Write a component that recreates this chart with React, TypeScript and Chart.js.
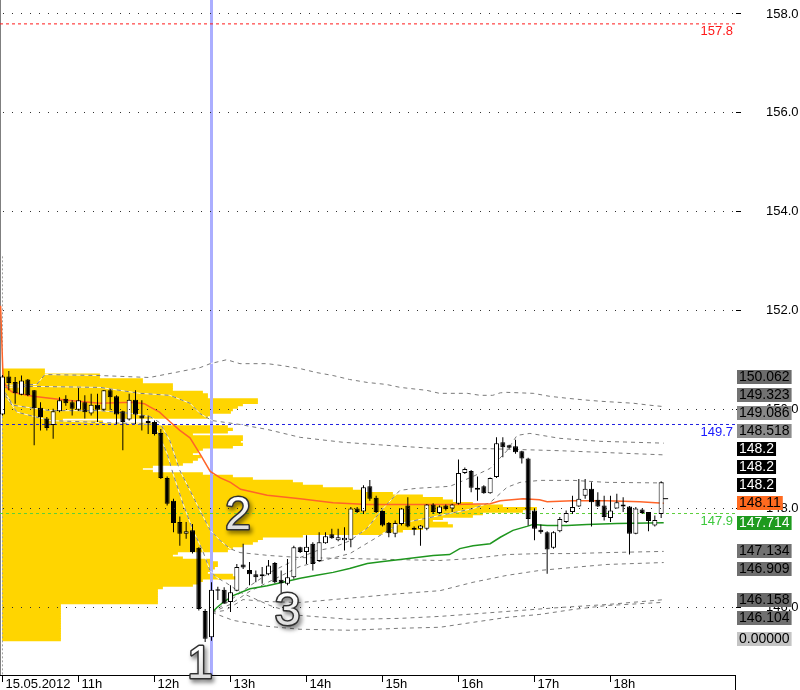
import React, { useEffect, useRef } from 'react';
import { Chart, registerables } from 'chart.js';

Chart.register(...registerables);

const FONT = '"Liberation Sans", Arial, Helvetica, sans-serif';

// ---- 5-minute candles, 15.05.2012 ----
const CANDLE_TIMES = [
  '10:00','10:05','10:10','10:15','10:20','10:25','10:30','10:35','10:40','10:45','10:50','10:55',
  '11:00','11:05','11:10','11:15','11:20','11:25','11:30','11:35','11:40','11:45','11:50','11:55',
  '12:00','12:05','12:10','12:15','12:20','12:25','12:30','12:35','12:40','12:45','12:50','12:55',
  '13:00','13:05','13:10','13:15','13:20','13:25','13:30','13:35','13:40','13:45','13:50','13:55',
  '14:00','14:05','14:10','14:15','14:20','14:25','14:30','14:35','14:40','14:45','14:50','14:55',
  '15:00','15:05','15:10','15:15','15:20','15:25','15:30','15:35','15:40','15:45','15:50','15:55',
  '16:00','16:05','16:10','16:15','16:20','16:25','16:30','16:35','16:40','16:45','16:50','16:55',
  '17:00','17:05','17:10','17:15','17:20','17:25','17:30','17:35','17:40','17:45','17:50','17:55',
  '18:00','18:05','18:10','18:15','18:20','18:25','18:30','18:35','18:40',
];
const OPEN = [
  149.90,150.67,150.56,150.30,150.61,150.39,150.04,149.82,149.69,149.97,150.22,150.15,
  150.00,150.15,149.92,150.10,150.00,150.39,150.27,149.97,149.80,150.20,149.88,149.77,
  149.75,149.53,148.62,148.16,147.73,147.49,147.56,147.21,145.93,145.40,146.37,146.36,
  146.11,146.34,146.87,146.76,146.67,146.67,146.67,146.90,146.56,146.48,146.61,147.22,
  147.12,147.29,146.94,147.30,147.48,147.36,147.36,147.37,148.00,147.94,148.45,148.22,
  147.95,147.71,147.49,147.69,148.06,147.61,147.59,147.59,148.08,147.91,148.06,148.00,
  148.10,148.72,148.76,148.38,148.45,148.31,148.64,149.34,149.28,149.26,149.16,149.01,
  147.96,147.57,147.52,147.21,147.54,147.73,147.93,148.04,148.26,148.40,148.18,148.06,
  147.81,148.00,148.08,148.04,147.49,147.98,147.93,147.66,147.89,
];
const HIGH = [
  150.70,150.78,150.66,150.69,150.62,150.40,150.15,149.85,150.02,150.25,150.29,150.19,
  150.44,150.29,150.32,150.32,150.40,150.42,150.29,149.98,150.32,150.39,150.19,149.88,
  149.78,149.61,148.65,148.20,147.84,147.73,147.69,147.22,145.97,146.51,146.42,146.41,
  146.45,146.88,147.29,146.92,146.75,146.82,146.96,146.92,146.75,146.98,147.25,147.23,
  147.46,147.32,147.52,147.52,147.59,147.59,147.62,148.03,148.03,148.47,148.58,148.26,
  147.96,147.73,147.76,148.01,148.23,147.64,147.67,148.09,148.11,148.06,148.08,148.10,
  148.99,148.83,148.78,148.65,148.47,148.63,149.44,149.44,149.29,149.39,149.17,149.03,
  148.00,147.68,147.54,147.54,147.83,147.96,148.26,148.60,148.60,148.53,148.33,148.26,
  148.26,148.30,148.23,148.05,148.03,148.00,147.93,147.86,148.55,
];
const LOW = [
  149.88,150.39,150.12,150.29,150.27,149.28,149.58,149.58,149.41,149.95,150.08,149.88,
  149.98,149.82,149.88,149.75,149.98,150.00,149.71,149.18,149.78,149.71,149.58,149.51,
  149.48,148.60,148.06,147.52,147.25,147.39,147.09,145.94,145.30,145.33,146.15,146.07,
  145.91,146.33,146.78,146.45,146.51,146.48,146.65,146.49,146.24,146.45,146.58,147.10,
  146.88,146.75,146.92,147.29,147.39,147.34,147.15,147.22,147.91,147.89,148.16,147.91,
  147.64,147.42,147.42,147.66,147.62,147.46,147.25,147.56,147.89,147.89,147.96,147.93,
  148.08,148.70,148.33,148.16,148.30,148.30,148.62,149.04,149.21,149.11,148.91,147.66,
  147.36,147.49,146.68,147.19,147.52,147.71,147.89,148.03,148.20,147.64,148.03,147.76,
  147.73,148.00,147.93,147.07,147.48,147.89,147.54,147.64,147.81,
];
const CLOSE = [
  150.67,150.54,150.33,150.59,150.29,150.03,149.85,149.63,149.97,150.19,150.13,150.02,
  150.19,149.95,150.10,150.00,150.39,150.25,149.90,149.75,150.20,149.90,149.82,149.73,
  149.51,148.62,148.10,147.71,147.49,147.54,147.12,145.97,145.37,146.36,146.34,146.08,
  146.31,146.82,146.81,146.67,146.61,146.63,146.85,146.51,146.49,146.61,147.22,147.12,
  147.23,146.88,147.32,147.44,147.40,147.42,147.41,148.00,147.93,148.43,148.20,147.93,
  147.66,147.50,147.71,148.00,147.64,147.57,147.66,148.08,147.93,148.04,147.99,148.08,
  148.72,148.80,148.42,148.42,148.31,148.62,149.32,149.24,149.23,149.14,149.01,147.79,
  147.59,147.52,147.17,147.52,147.79,147.91,148.03,148.20,148.40,148.13,148.04,147.83,
  147.96,148.13,148.04,147.49,148.00,147.91,147.75,147.77,148.53,
];
const LAST_PRICE = 148.2;

// ---- volume profile (price level -> traded volume) ----
const PROFILE_PRICE = [
  150.80,150.75,150.70,150.65,150.60,150.55,150.50,150.45,150.40,150.35,
  150.30,150.25,150.20,150.15,150.10,150.05,150.00,149.95,149.90,149.85,
  149.80,149.75,149.70,149.65,149.60,149.55,149.50,149.45,149.40,149.35,
  149.30,149.25,149.20,149.15,149.10,149.05,149.00,148.95,148.90,148.85,
  148.80,148.75,148.70,148.65,148.60,148.55,148.50,148.45,148.40,148.35,
  148.30,148.25,148.20,148.15,148.10,148.05,148.00,147.95,147.90,147.85,
  147.80,147.75,147.70,147.65,147.60,147.55,147.50,147.45,147.40,147.35,
  147.30,147.25,147.20,147.15,147.10,147.05,147.00,146.95,146.90,146.85,
  146.80,146.75,146.70,146.65,146.60,146.55,146.50,146.45,146.40,146.35,
  146.30,146.25,146.20,146.15,146.10,146.05,146.00,145.95,145.90,145.85,
  145.80,145.75,145.70,145.65,145.60,145.55,145.50,145.45,145.40,145.35,
];
const PROFILE_VOLUME = [
  42,42,97,97,140,140,170,170,170,200,
  205,205,255,255,240,235,230,228,210,205,
  60,100,150,225,230,225,190,240,240,238,
  240,230,200,195,190,198,195,190,180,150,
  140,150,200,230,250,290,300,320,350,360,
  390,420,440,450,470,500,534,520,480,470,
  440,430,445,450,420,400,380,300,260,255,
  250,240,230,225,175,170,180,210,215,215,
  212,210,205,230,235,200,195,190,160,155,
  155,155,155,155,155,58,58,58,58,58,
  58,58,58,58,58,58,58,58,58,58,
];

// ---- indicator lines: [minutes after 10:00, price] ----
const ORANGE_VWAP: [number, number][] = [
  [-1.5,152.10],[0.5,150.60],[4,150.43],[8,150.35],[24,150.27],[51,150.19],[77,150.13],[103,150.15],
  [112,150.12],[116,150.06],[124,149.95],[132,149.76],[140,149.58],[148,149.43],[156,149.10],[164,148.75],
  [172,148.62],[180,148.53],[188,148.39],[209,148.27],[235,148.20],[261,148.12],[288,148.08],[356,148.08],
  [385,148.10],[393,148.16],[411,148.20],[424,148.18],[430,148.14],[450,148.16],[477,148.16],[503,148.14],[522,148.11],
];
const ORANGE_UP2: [number, number][] = [
  [2,150.49],[27,150.51],[33.5,150.71],[77,150.69],[116,150.65],[136,150.75],[156,150.85],[164,150.93],
  [177,151.01],[187.5,150.93],[209,150.93],[221,150.89],[235,150.83],[248,150.75],[261,150.69],[274,150.61],
  [288,150.55],[303,150.51],[314,150.45],[335,150.39],[345,150.33],[367,150.33],[377,150.29],[387,150.29],
  [393,150.34],[398,150.35],[419,150.33],[432,150.27],[446,150.23],[458,150.20],[472,150.17],[485,150.15],
  [498,150.13],[511,150.09],[522,150.062],
];
const ORANGE_UP1: [number, number][] = [
  [2,150.45],[24,150.47],[77,150.45],[108.6,150.33],[132,150.29],[148,150.13],[156,149.92],[165.4,149.78],
  [187.5,149.70],[209,149.60],[235,149.44],[269,149.34],[314,149.26],[345,149.21],[385,149.21],[440,149.17],[522,149.086],
];
const ORANGE_DN1: [number, number][] = [
  [2,150.35],[8.3,150.09],[37.5,149.98],[77,149.98],[103,149.92],[116.4,149.86],[124,149.74],[132,149.38],
  [140,148.77],[148,148.37],[156,147.96],[164,147.56],[172,147.35],[179.6,147.19],[187.5,147.11],[211,147.05],
  [235,147.01],[274,146.99],[345,146.95],[371,146.99],[398,147.07],[424,147.09],[450,147.09],[477,147.11],[522,147.134],
];
const ORANGE_DN2: [number, number][] = [
  [2,150.29],[11.4,149.95],[37.5,149.78],[77,149.74],[103,149.72],[120,149.70],[130,149.11],[134.6,148.71],
  [142.5,148.10],[150.4,147.56],[158,147.15],[163.8,146.75],[169,146.61],[177,146.49],[187.5,146.31],[211.2,146.04],
  [234.9,145.84],[274.3,145.76],[313.8,145.78],[345.4,145.82],[398.3,145.92],[440.1,146.00],[477.2,146.06],[522,146.158],
];
const GREEN_VWAP: [number, number][] = [
  [165.4,145.90],[169.3,146.00],[174,146.10],[182,146.24],[195.4,146.38],[209,146.44],[221.4,146.51],[235,146.59],
  [248,146.65],[261,146.71],[274,146.79],[288,146.89],[300.4,146.93],[314,146.97],[327,147.01],[340,147.05],
  [353,147.07],[361,147.19],[371.5,147.25],[385,147.29],[393,147.42],[403,147.56],[414,147.64],[419,147.68],
  [430,147.66],[445.6,147.66],[461.4,147.68],[485,147.70],[522,147.714],
];
const GREEN_UP2: [number, number][] = [
  [165.4,145.90],[179.6,146.14],[195.4,146.44],[211.2,146.71],[234.9,147.01],[248.3,147.15],[260.9,147.21],
  [274.3,147.35],[287.8,147.60],[300.4,148.00],[313.8,148.37],[327.2,148.41],[353.3,148.45],[371.5,148.65],
  [384.9,148.81],[398.3,149.17],[406.2,149.48],[416.4,149.52],[440.1,149.42],[471.7,149.36],[522,149.323],
];
const GREEN_UP1: [number, number][] = [
  [165.4,145.90],[179.6,146.06],[195.4,146.33],[211.2,146.53],[234.9,146.83],[274.3,147.09],[313.8,147.70],
  [345.4,147.86],[371.5,148.00],[384.9,148.12],[398.3,148.43],[408.6,148.53],[424.3,148.57],[450.4,148.57],
  [477.2,148.53],[522,148.518],
];
const GREEN_DN1: [number, number][] = [
  [165.4,145.90],[175.7,145.94],[189.9,146.16],[208.8,146.12],[234.9,146.10],[260.9,146.16],[287.8,146.22],
  [313.8,146.28],[345.4,146.34],[371.5,146.51],[398.3,146.65],[424.3,146.75],[450.4,146.81],[477.2,146.87],[522,146.909],
];
const GREEN_DN2: [number, number][] = [
  [165.4,145.90],[182,145.74],[208.8,145.62],[234.9,145.56],[274.3,145.54],[313.8,145.58],[345.4,145.60],
  [371.5,145.70],[398.3,145.80],[424.3,145.86],[450.4,145.96],[477.2,146.04],[522,146.104],
];

// ---- horizontal levels ----
const LEVEL_VALUES = [157.8, 149.7, 147.9];
const LEVEL_COLORS = ['#ff1a1a', '#2020e0', '#5ccf3a'];
const LEVEL_TEXT_COLORS = ['#ff1a1a', '#1a1aff', '#3cc83c'];

const MARKER_TIME = '12:45';
const SESSION_START = '10:00';
const SESSION_LINE_TOP = 153.1;

// ---- axes ----
const X_TICKS = ['10:00','11:00','12:00','13:00','14:00','15:00','16:00','17:00','18:00'];
const X_TICK_LABELS = ['15.05.2012','11h','12h','13h','14h','15h','16h','17h','18h'];
const Y_TICKS = [146, 148, 150, 152, 154, 156, 158];
const X_RANGE = [-1.97, 578.3];
const Y_RANGE = [144.635, 158.283];

// ---- value boxes on the price axis (placement order) ----
const SIDE_VALUES = [147.714, 148.11, 148.2, 148.2, 148.2, 148.518, 149.086, 149.323, 150.062, 147.134, 146.909, 146.158, 146.104, 0];
const SIDE_TEXTS = ['147.714','148.11','148.2','148.2','148.2','148.518','149.086','149.323','150.062','147.134','146.909','146.158','146.104','0.00000'];
const SIDE_BG = ['#1e9a1e','#ff6a1f','#000000','#000000','#000000','#8c8c8c','#888888','#727272','#6c6c6c','#727272','#6e6e6e','#6a6a6a','#707070','#c4c4c4'];
const SIDE_FG = ['#ffffff','#000000','#ffffff','#ffffff','#ffffff','#000000','#000000','#000000','#000000','#000000','#000000','#000000','#000000','#000000'];

// ---- numbered annotations ----
const NOTE_TEXT = ['1', '2', '3'];
const NOTE_TIME = [156, 186, 225];
const NOTE_PRICE = [144.83, 147.84, 145.90];

const toMin = (s: string) => {
  const [h, m] = s.split(':').map(Number);
  return h * 60 + m - 600;
};

const pts = (arr: [number, number][]) => arr.map(([x, y]) => ({ x, y }));

function lineDs(data: any[], color: string, width: number, order: number, dash: number[] = []) {
  return {
    type: 'line' as const,
    data,
    borderColor: color,
    borderWidth: width,
    borderDash: dash,
    pointRadius: 0,
    tension: 0,
    fill: false,
    order,
    xAxisID: 'x',
    yAxisID: 'y',
  };
}

const noPadding = (s: any) => {
  s.paddingTop = 0;
  s.paddingBottom = 0;
  s.paddingLeft = 0;
  s.paddingRight = 0;
};

const overlayPlugin = {
  id: 'overlay',
  afterDatasetsDraw(chart: any) {
    const { ctx, chartArea, scales } = chart;
    ctx.save();
    ctx.font = `13px ${FONT}`;
    ctx.textAlign = 'right';
    ctx.textBaseline = 'middle';
    LEVEL_VALUES.forEach((v, i) => {
      const y = scales.y.getPixelForValue(v);
      ctx.fillStyle = LEVEL_TEXT_COLORS[i];
      ctx.fillText(v.toFixed(1), chartArea.right - 2, y + 7.5);
    });
    ctx.restore();
  },
  afterDraw(chart: any) {
    const { ctx, chartArea, scales } = chart;
    ctx.save();
    ctx.strokeStyle = '#000';
    ctx.lineWidth = 1;
    ctx.beginPath();
    ctx.moveTo(Math.round(chartArea.right) + 0.5, chartArea.bottom);
    ctx.lineTo(Math.round(chartArea.right) + 0.5, chart.height);
    ctx.stroke();
    ctx.restore();

    // value boxes: labels above the last price stack upwards, the others downwards
    const GAP = 18;
    const lo = chartArea.top + 8;
    const hi = chartArea.bottom - 36;
    const placed: number[] = [];
    ctx.save();
    ctx.font = `14px ${FONT}`;
    ctx.textBaseline = 'middle';
    ctx.textAlign = 'left';
    SIDE_VALUES.forEach((v, i) => {
      let c = Math.min(hi, Math.max(lo, scales.y.getPixelForValue(v)));
      const up = v >= LAST_PRICE;
      for (let k = 0; k < 40; k++) {
        const hit = placed.filter((p) => Math.abs(c - p) < GAP - 0.01);
        if (!hit.length) break;
        c = up ? Math.min(...hit) - GAP : Math.max(...hit) + GAP;
      }
      placed.push(c);
      const text = SIDE_TEXTS[i];
      const w = ctx.measureText(text).width + 4;
      const x0 = Math.round(chartArea.right) + 2;
      ctx.fillStyle = SIDE_BG[i];
      ctx.fillRect(x0, Math.round(c - 7), w, 14);
      ctx.fillStyle = SIDE_FG[i];
      ctx.fillText(text, x0 + 2, Math.round(c) + 0.5);
    });
    ctx.restore();

    ctx.save();
    ctx.font = `46px ${FONT}`;
    ctx.textAlign = 'center';
    ctx.textBaseline = 'middle';
    NOTE_TEXT.forEach((t, i) => {
      const x = scales.x.getPixelForValue(NOTE_TIME[i]);
      const y = scales.y.getPixelForValue(NOTE_PRICE[i]);
      ctx.save();
      ctx.shadowColor = 'rgba(0,0,0,0.55)';
      ctx.shadowBlur = 4;
      ctx.shadowOffsetX = 2;
      ctx.shadowOffsetY = 3;
      ctx.lineWidth = 3;
      ctx.strokeStyle = '#303030';
      ctx.lineJoin = 'round';
      ctx.strokeText(t, x, y);
      ctx.restore();
      const g = ctx.createLinearGradient(0, y - 16, 0, y + 16);
      g.addColorStop(0, '#ffffff');
      g.addColorStop(1, '#d8d8d8');
      ctx.fillStyle = g;
      ctx.fillText(t, x, y);
    });
    ctx.restore();
  },
};

export default function App() {
  const ref = useRef<HTMLCanvasElement>(null);

  useEffect(() => {
    const canvas = ref.current;
    if (!canvas) return;
    const times = CANDLE_TIMES.map(toMin);
    const wickData = times.map((x, i) => ({ x, y: [LOW[i], HIGH[i]] }));
    const bodyData = times.map((x, i) => ({ x, y: [OPEN[i], CLOSE[i]] }));
    const bodyColors = OPEN.map((o, i) => (CLOSE[i] >= o ? '#ffffff' : '#000000'));
    const lastT = times[times.length - 1];
    const markerT = toMin(MARKER_TIME);
    const sessionT = toMin(SESSION_START);

    const bands = [ORANGE_UP2, ORANGE_UP1, ORANGE_DN1, ORANGE_DN2, GREEN_UP2, GREEN_UP1, GREEN_DN1, GREEN_DN2];
    const bandDatasets: any[] = [];
    bands.forEach((b) => {
      bandDatasets.push(lineDs(pts(b), 'rgba(255,255,255,0.85)', 1, 71));
      bandDatasets.push(lineDs(pts(b), '#7a7a7a', 1, 70, [4, 4]));
    });

    const chart = new Chart(canvas, {
      type: 'bar',
      data: {
        datasets: [
          {
            type: 'bar',
            indexAxis: 'y',
            xAxisID: 'xv',
            yAxisID: 'yv',
            data: PROFILE_PRICE.map((p, i) => ({ x: PROFILE_VOLUME[i], y: p })),
            backgroundColor: '#ffd500',
            borderWidth: 0,
            barPercentage: 1,
            categoryPercentage: 1,
            inflateAmount: 0.4,
            grouped: false,
            order: 100,
          } as any,
          lineDs([{ x: sessionT, y: SESSION_LINE_TOP }, { x: sessionT, y: Y_RANGE[0] }], '#a0a0a0', 1, 95, [2, 2]),
          lineDs([{ x: markerT, y: Y_RANGE[0] }, { x: markerT, y: Y_RANGE[1] }], '#abaeff', 3, 90),
          ...LEVEL_VALUES.map((v, i) =>
            lineDs([{ x: X_RANGE[0], y: v }, { x: X_RANGE[1], y: v }], LEVEL_COLORS[i], 1, 80, [3, 3])
          ),
          ...bandDatasets,
          lineDs(pts(ORANGE_VWAP), '#ff6428', 1.5, 60),
          lineDs(pts(GREEN_VWAP), '#1e961e', 1.5, 59),
          {
            type: 'bar',
            data: wickData,
            backgroundColor: '#000000',
            borderWidth: 0,
            barThickness: 1,
            grouped: false,
            inflateAmount: 0,
            order: 50,
            xAxisID: 'x',
            yAxisID: 'y',
          } as any,
          {
            type: 'bar',
            data: bodyData,
            backgroundColor: bodyColors,
            borderColor: '#000000',
            borderWidth: 1,
            borderSkipped: false,
            barThickness: 5,
            minBarLength: 1,
            grouped: false,
            inflateAmount: 0,
            order: 40,
            xAxisID: 'x',
            yAxisID: 'y',
          } as any,
          lineDs([{ x: lastT + 1.5, y: LAST_PRICE }, { x: lastT + 5.5, y: LAST_PRICE }], '#000000', 1, 30),
        ],
      },
      options: {
        responsive: false,
        maintainAspectRatio: false,
        animation: false,
        devicePixelRatio: 1,
        events: [],
        layout: { padding: 0, autoPadding: false },
        plugins: {
          legend: { display: false },
          tooltip: { enabled: false },
          title: { display: false },
        },
        scales: {
          x: {
            type: 'linear',
            position: 'bottom',
            min: X_RANGE[0],
            max: X_RANGE[1],
            offset: false,
            afterBuildTicks: (s: any) => { s.ticks = X_TICKS.map((t) => ({ value: toMin(t) })); },
            afterFit: (s: any) => { s.height = 15; noPadding(s); },
            ticks: {
              autoSkip: false,
              maxRotation: 0,
              minRotation: 0,
              align: 'start',
              labelOffset: 3,
              padding: -5,
              color: '#000',
              font: { family: FONT, size: 13 },
              callback: (_v: any, i: number) => X_TICK_LABELS[i],
            },
            grid: { offset: false, drawOnChartArea: false, drawTicks: true, tickLength: 7, tickColor: '#000' },
            border: { display: true, color: '#000', width: 1 },
          },
          y: {
            type: 'linear',
            position: 'right',
            min: Y_RANGE[0],
            max: Y_RANGE[1],
            offset: false,
            afterBuildTicks: (s: any) => { s.ticks = Y_TICKS.map((v) => ({ value: v })); },
            afterFit: (s: any) => { s.width = 65; noPadding(s); },
            ticks: {
              crossAlign: 'near',
              padding: 25,
              color: '#000',
              font: { family: FONT, size: 13 },
              callback: (v: any) => Number(v).toFixed(1),
            },
            grid: { color: '#303030', lineWidth: 1, tickLength: 6, tickColor: '#000', tickBorderDash: [], z: 1, offset: false },
            border: { display: true, color: '#000', width: 1, dash: [1, 8], dashOffset: 6 },
          },
          xv: {
            type: 'linear',
            display: false,
            min: -2.5,
            max: 732.5,
            offset: false,
            grid: { offset: false },
          },
          yv: {
            type: 'linear',
            display: false,
            min: Y_RANGE[0],
            max: Y_RANGE[1],
            offset: false,
            grid: { offset: false },
          },
        },
      } as any,
      plugins: [overlayPlugin],
    });
    return () => chart.destroy();
  }, []);

  return (
    <div style={{ position: 'fixed', left: 0, top: 0, width: 800, height: 690, background: '#ffffff' }}>
      <canvas ref={ref} width={800} height={690} style={{ display: 'block', width: 800, height: 690 }} />
    </div>
  );
}
